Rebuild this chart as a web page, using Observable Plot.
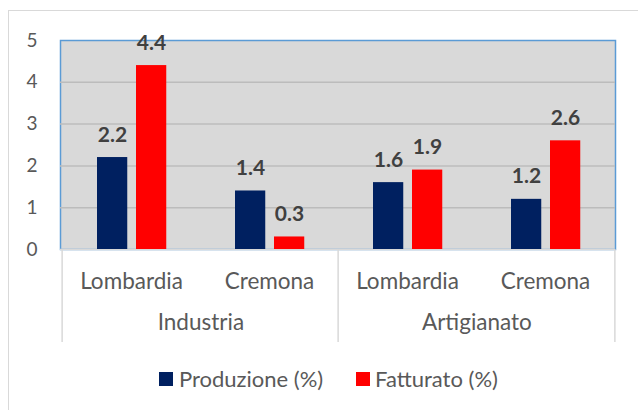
<!DOCTYPE html>
<html>
<head>
<meta charset="utf-8">
<script src="https://cdn.jsdelivr.net/npm/d3@7"></script>
<script src="https://cdn.jsdelivr.net/npm/@observablehq/plot@0.6"></script>
<style>
  html, body { margin: 0; padding: 0; background: #fff; }
  #wrap { position: relative; width: 638px; height: 410px; overflow: hidden; font-family: Lato, "Open Sans", sans-serif; }
  #border { position: absolute; left: 8px; top: 10px; width: 660px; height: 440px; border: 1.5px solid #d9d9d9; box-sizing: border-box; }
  #chart { position: absolute; left: 0; top: 0; }
  #legend { position: absolute; top: 366px; left: 0; width: 638px; height: 26px; color: #595959; font-size: 22px; }
  .sw { position: absolute; top: 6px; width: 14px; height: 14px; }
  .lt { position: absolute; top: 0; line-height: 26px; white-space: nowrap; }
</style>
</head>
<body>
<div id="wrap">
  <div id="border"></div>
  <div id="chart"></div>
  <div id="legend"></div>
</div>
<script>
const sectors = ["Industria", "Industria", "Artigianato", "Artigianato"];
const regions = ["Lombardia", "Cremona", "Lombardia", "Cremona"];
const produzione = [2.2, 1.4, 1.6, 1.2];
const fatturato = [4.4, 0.3, 1.9, 2.6];
const seriesNames = ["Produzione (%)", "Fatturato (%)"];
const seriesColors = ["#002060", "#ff0000"];
const yTicks = [0, 1, 2, 3, 4, 5];
const groupNames = ["Industria", "Artigianato"];

const keys = regions.map((r, i) => sectors[i] + "|" + r);
const rowsP = keys.map((k, i) => ({key: k, value: produzione[i]}));
const rowsF = keys.map((k, i) => ({key: k, value: fatturato[i]}));
const groups = groupNames.map(g => ({name: g, first: keys[sectors.indexOf(g)]}));

const W = 638, H = 350;
const mL = 60, mR = 23, mT = 40, mB = 101;
const bw = (W - mL - mR) / keys.length;
const labelFont = {fill: "#404040", fontSize: 21, fontWeight: "bold", lineAnchor: "bottom", dy: -16};

const chart = Plot.plot({
  width: W, height: H,
  marginLeft: mL, marginRight: mR, marginTop: mT, marginBottom: mB,
  style: {fontFamily: "Lato, 'Open Sans', sans-serif", color: "#595959", background: "transparent"},
  x: {domain: keys, padding: 0, axis: null},
  y: {domain: [0, 5], axis: null},
  marks: [
    Plot.frame({fill: "#d9d9d9", stroke: "#5b9bd5", strokeWidth: 1.5}),
    Plot.ruleY(yTicks.filter(d => d > 0 && d < 5), {stroke: "#bcbcbc", strokeWidth: 1.5}),
    Plot.ruleY([0], {stroke: "#d9d9d9", strokeWidth: 1.5}),
    Plot.barY(rowsP, {x: "key", y: "value", fill: seriesColors[0], insetLeft: 35, insetRight: bw - 66}),
    Plot.barY(rowsF, {x: "key", y: "value", fill: seriesColors[1], insetLeft: 74, insetRight: bw - 105}),
    Plot.text(rowsP, {x: "key", y: "value", text: d => d.value.toFixed(1), dx: -19, ...labelFont}),
    Plot.text(rowsF, {x: "key", y: "value", text: d => d.value.toFixed(1), dx: 20, ...labelFont}),
    Plot.axisY(yTicks, {tickSize: 0, tickPadding: 23, fontSize: 19, fill: "#595959", label: null}),
    Plot.axisX({tickSize: 0, tickPadding: 24, fontSize: 22.5, fill: "#595959", label: null, tickFormat: k => k.split("|")[1]}),
    Plot.text(groups, {x: "first", text: "name", frameAnchor: "bottom", dx: bw / 2, dy: 80, fontSize: 22.5, fill: "#595959"}),
    Plot.ruleX([keys[0], keys[2]], {x: d => d, y1: 0, y2: 0, dx: -bw / 2, insetBottom: -93, stroke: "#d9d9d9", strokeWidth: 1.5}),
    Plot.ruleX([keys[3]], {x: d => d, y1: 0, y2: 0, dx: bw / 2, insetBottom: -93, stroke: "#d9d9d9", strokeWidth: 1.5})
  ]
});
document.getElementById("chart").appendChild(chart);

const legend = document.getElementById("legend");
const legendX = [[159, 179], [356, 375]];
seriesNames.forEach((name, i) => {
  const sw = document.createElement("div");
  sw.className = "sw";
  sw.style.left = legendX[i][0] + "px";
  sw.style.background = seriesColors[i];
  legend.appendChild(sw);
  const t = document.createElement("div");
  t.className = "lt";
  t.style.left = legendX[i][1] + "px";
  t.textContent = name;
  legend.appendChild(t);
});
</script>
</body>
</html>
